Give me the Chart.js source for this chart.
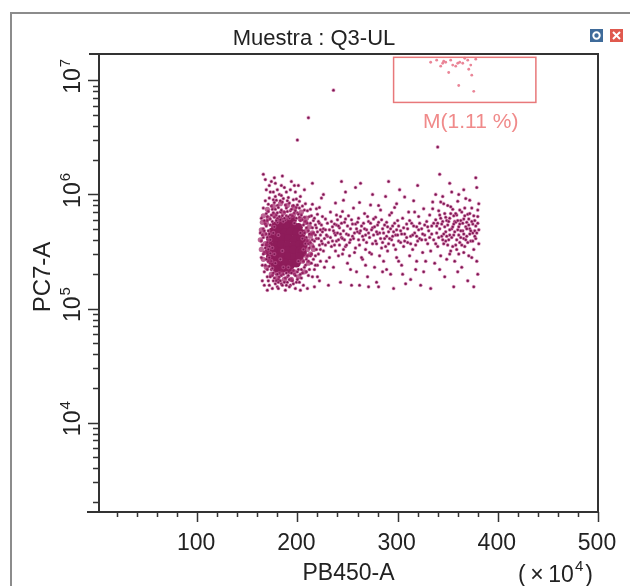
<!DOCTYPE html>
<html>
<head>
<meta charset="utf-8">
<script src="https://cdn.jsdelivr.net/npm/chart.js@4.4.1/dist/chart.umd.min.js"></script>
<style>
  html, body { margin: 0; padding: 0; background: #fff; }
  #wrap { width: 630px; height: 586px; position: relative; }
</style>
</head>
<body>
<div id="wrap"><canvas id="chartCanvas"></canvas></div>
<script>
// axis ticks / labels
const xTickValues = [20,40,60,80,100,120,140,160,180,200,220,240,260,280,300,320,340,360,380,400,420,440,460,480,500];
const xLabelValues = [100, 200, 300, 400, 500];
const yTickValues = [2e3,3e3,4e3,5e3,6e3,7e3,8e3,9e3,1e4,2e4,3e4,4e4,5e4,6e4,7e4,8e4,9e4,1e5,2e5,3e5,4e5,5e5,6e5,7e5,8e5,9e5,1e6,2e6,3e6,4e6,5e6,6e6,7e6,8e6,9e6,1e7];
const yLabelExponents = [4, 5, 6, 7];
const titleText = "Muestra : Q3-UL";
const xTitle = "PB450-A";
const yTitle = "PC7-A";

// gate M
const gateX = [296, 438];
const gateY = [6.4e6, 1.59e7];
const gateLabel = "M(1.11 %)";

// dense core of the main population (PB450 x1e4, PC7)
const coreEvents = [
  [182,5.9e5],[189,5.8e5],[195,5.95e5],
  [178,5.3e5],[184,5.25e5],[190,5.2e5],[196,5.3e5],[201,5.15e5],
  [175,4.7e5],[181,4.65e5],[187,4.6e5],[193,4.7e5],[199,4.6e5],[204,4.55e5],
  [173,4.1e5],[179,4.05e5],[185,4.15e5],[191,4.1e5],[197,4.05e5],[203,4.15e5],[206,4.0e5],
  [172,3.6e5],[178,3.55e5],[184,3.65e5],[190,3.6e5],[196,3.55e5],[202,3.6e5],[206,3.6e5],
  [172,3.2e5],[178,3.25e5],[184,3.15e5],[190,3.2e5],[196,3.25e5],[202,3.2e5],[205,3.1e5],
  [173,2.85e5],[179,2.8e5],[185,2.9e5],[191,2.85e5],[197,2.8e5],[202,2.85e5],
  [176,2.5e5],[182,2.45e5],[188,2.5e5],[194,2.45e5],[199,2.5e5],
  [180,2.2e5],[186,2.25e5],[192,2.2e5]
];
// medium density ring round the core
const haloEvents = [
  [166,6.5e5],[170,7.4e5],[176,7.9e5],[183,8.3e5],[190,8.0e5],[197,7.6e5],[204,7.0e5],[209,6.2e5],
  [212,5.2e5],[213,4.3e5],[214,3.6e5],[213,3.0e5],[211,2.5e5],[207,2.1e5],[201,1.9e5],[194,1.8e5],
  [187,1.8e5],[180,1.85e5],[174,2.0e5],[169,2.3e5],[166,2.7e5],[164,3.3e5],[163,4.0e5],[164,4.9e5],
  [165,5.7e5],[171,6.2e5],[208,5.7e5],[210,3.3e5],[168,3.7e5],[205,2.6e5],[177,6.6e5],[186,6.9e5],
  [196,6.6e5],[203,6.1e5],[209,4.8e5],[211,3.9e5],[209,2.9e5],[197,2.1e5],[184,2.05e5],[172,2.6e5],
  [168,3.1e5],[167,4.5e5],[169,5.6e5],[215,4.6e5],[216,3.3e5]
];
// single events
const cellEvents = [
  [166,4.2e5],[167,3.1e5],[168,5.5e5],[168,2.4e5],[169,6.8e5],[170,3.8e5],[170,1.9e5],[171,8.2e5],[171,4.8e5],[172,2.8e5],
  [172,1.6e5],[173,1.05e6],[173,6.1e5],[174,2.2e5],[175,7.4e5],[175,3.4e5],[176,1.75e5],[176,9.0e5],[177,5.2e5],[178,2.5e5],
  [178,1.25e6],[179,6.6e5],[180,1.55e5],[180,8.0e5],[181,4.4e5],[182,2.05e5],[182,1.0e6],[183,7.0e5],[184,1.65e5],[185,8.6e5],
  [186,5.8e5],[186,2.3e5],[187,1.15e6],[188,1.45e5],[189,7.6e5],[190,1.9e5],[191,9.4e5],[192,6.2e5],[193,1.6e5],[194,1.3e6],
  [195,7.9e5],[196,2.15e5],[197,5.6e5],[198,1.05e6],[199,1.7e5],[200,6.9e5],[201,2.6e5],[202,8.7e5],[203,4.6e5],[204,1.85e5],
  [205,6.0e5],[206,3.3e5],[207,7.3e5],[208,2.4e5],[209,5.1e5],[210,3.9e5],[211,1.95e5],[212,6.4e5],[213,2.9e5],[214,4.5e5],
  [215,8.2e5],[216,3.5e5],[217,2.2e5],[218,5.4e5],[219,4.1e5],[220,6.7e5],[221,3.0e5],[222,1.75e5],[223,4.9e5],[224,9.3e5],
  [225,3.7e5],
  [165,3.6e5],[166,5.0e5],[167,2.1e5],[169,4.5e5],[170,5.9e5],[171,2.6e5],[172,3.5e5],[173,4.0e5],[174,7.9e5],[175,1.95e5],
  [176,4.6e5],[177,3.0e5],[178,9.6e5],[179,2.0e5],[180,5.7e5],[181,1.8e5],[183,2.7e5],[184,9.8e5],[185,3.2e5],[187,1.7e5],
  [188,6.0e5],[190,8.8e5],[191,2.3e5],[193,7.2e5],[194,1.8e5],[196,9.0e5],[197,2.0e5],[199,7.7e5],[200,2.1e5],[202,6.3e5],
  [203,2.0e5],[205,4.1e5],[206,1.6e5],[208,5.8e5],[209,2.7e5],[211,4.8e5],[212,3.4e5],[213,7.4e5],[214,2.5e5],[216,5.9e5],
  [218,2.9e5],[219,7.5e5],[220,2.4e5],[222,5.6e5],[223,3.3e5],
  [163,4.6e5],[164,2.8e5],[164,6.2e5],[165,1.75e5],[166,1.5e6],[168,1.35e6],[170,1.45e5],[172,1.2e6],[175,1.5e5],[177,1.4e6],
  [181,1.5e5],[185,1.45e6],[189,1.6e5],[192,1.55e5],[198,1.5e5],[201,1.2e6],[203,1.45e5],[207,1.1e6],[210,1.5e5],[215,1.25e6],
  [217,1.55e5],[226,1.0e6],[228,6.1e5],[229,2.6e5],[230,4.3e5],[231,1.6e5],[233,7.0e5],[234,3.5e5],[235,5.2e5],
  [164,3.9e5],[165,4.4e5],[165,2.4e5],[166,3.0e5],[166,7.6e5],[167,4.8e5],[167,5.9e5],[167,1.6e5],[168,3.4e5],[168,8.8e5],
  [169,2.7e5],[169,5.3e5],[169,1.1e6],[170,4.2e5],[170,6.4e5],[170,2.2e5],[171,3.3e5],[171,7.1e5],[171,1.75e5],[172,4.5e5],
  [172,9.3e5],[172,2.35e5],[173,5.4e5],[173,1.9e5],[173,3.05e5],[174,6.6e5],[174,2.6e5],[174,1.3e6],[175,5.8e5],[175,2.25e5],
  [176,6.9e5],[176,2.05e5],[176,1.05e6],[177,8.5e5],[177,1.85e5],[177,6.3e5],[178,7.4e5],[178,1.65e5],[179,8.9e5],[179,5.9e5],
  [179,1.75e5],[180,6.9e5],[180,1.1e6],[180,2.0e5],[181,7.7e5],[181,1.7e5],[182,6.4e5],[182,1.9e5],[183,8.8e5],[183,6.0e5],
  [183,1.75e5],[184,7.3e5],[184,1.95e5],[184,1.2e6],[185,6.5e5],[185,1.6e5],[186,9.2e5],[186,2.0e5],[187,7.0e5],[187,6.2e5],
  [188,8.1e5],[188,1.85e5],[189,6.5e5],[189,1.05e6],[189,2.05e5],[190,7.1e5],[190,1.7e5],[191,6.4e5],[191,1.95e5],[192,8.4e5],
  [192,1.8e5],[193,6.6e5],[193,1.1e6],[194,7.4e5],[194,2.05e5],[195,6.5e5],[195,1.75e5],[196,8.0e5],[196,1.65e5],[197,6.9e5],
  [197,1.2e6],[198,7.2e5],[198,1.95e5],[199,6.2e5],[199,9.1e5],[200,8.1e5],[200,1.8e5],[201,6.7e5],[201,2.2e5],[202,7.6e5],
  [202,1.7e5],[203,5.9e5],[203,9.6e5],[204,6.6e5],[204,2.2e5],[205,7.9e5],[205,2.05e5],[206,5.4e5],[206,2.6e5],[207,6.3e5],
  [207,2.3e5],[207,4.6e5],[208,3.7e5],[208,8.3e5],[209,4.2e5],[209,2.1e5],[210,5.6e5],[210,2.9e5],[210,7.2e5],[211,3.7e5],
  [211,2.6e5],[212,4.5e5],[212,2.2e5],[213,5.6e5],[213,3.8e5],[214,6.5e5],[214,3.0e5],[215,5.1e5],[215,4.0e5],[215,1.9e5],
  [216,4.6e5],[216,2.7e5],[217,6.2e5],[217,3.9e5],[218,4.4e5],[218,2.4e5],[219,5.1e5],[219,3.3e5],[220,4.7e5],[220,1.9e5],
  [221,5.8e5],[221,4.1e5],[222,3.6e5],[222,7.7e5],[223,4.4e5],[223,2.6e5],[224,5.4e5],[224,3.9e5],[225,4.7e5],[225,6.4e5],
  [226,3.2e5],[226,5.0e5],[227,4.1e5],[227,2.3e5],[228,4.9e5],[228,3.6e5],
  [236,2.3e5],[237,4.6e5],[238,8.4e5],[239,3.9e5],[240,6.0e5],[241,2.9e5],[242,5.1e5],[243,1.7e5],[244,4.2e5],[245,7.1e5],
  [246,3.3e5],[247,5.7e5],[248,1.05e6],[249,4.5e5],[250,2.5e5],[251,6.5e5],[252,3.8e5],[253,5.0e5],[254,1.6e5],[255,4.3e5],
  [256,7.6e5],[257,3.1e5],[258,5.5e5],[259,2.1e5],[260,4.7e5],[261,6.2e5],[262,3.6e5],[263,1.25e6],[264,5.3e5],[265,2.7e5],
  [266,4.0e5],[267,6.8e5],[268,3.3e5],[269,4.9e5],[270,1.9e5],[271,5.8e5],[272,4.2e5],[273,8.1e5],[274,3.0e5],[275,5.1e5],
  [276,4.4e5],[277,2.3e5],[278,6.3e5],[279,3.7e5],[280,5.4e5],[281,1.55e5],[282,4.6e5],[283,7.3e5],[284,3.4e5],[285,5.0e5],
  [286,2.6e5],[287,4.1e5],[288,9.6e5],[289,5.7e5],[290,3.2e5],[291,4.7e5],[292,6.6e5],[293,2.0e5],[294,4.0e5],[295,5.3e5],
  [296,3.6e5],[297,7.7e5],[298,4.4e5],[299,2.8e5],[300,5.9e5],[301,3.9e5],[302,1.1e6],[303,4.8e5],[304,2.4e5],[305,6.2e5],
  [306,3.5e5],[307,4.5e5],[308,1.65e5],[309,5.5e5],[310,3.8e5],[311,7.0e5],[312,2.9e5],[313,4.3e5],[314,5.6e5],[315,3.3e5],
  [316,8.8e5],[317,4.6e5],[318,2.2e5],[319,5.2e5],[320,3.9e5],[321,6.4e5],[322,4.1e5],[323,1.6e5],[324,5.0e5],[325,3.1e5],
  [326,7.5e5],[327,4.4e5],[328,2.6e5],[329,5.8e5],[330,3.7e5],
  [237,3.6e5],[239,5.4e5],[241,4.0e5],[243,6.4e5],[245,3.0e5],[246,4.8e5],[248,3.5e5],[250,5.3e5],[252,2.9e5],[254,6.0e5],
  [256,4.1e5],[258,3.4e5],[260,5.7e5],[262,4.6e5],[264,2.8e5],[266,5.6e5],[268,4.4e5],[270,6.4e5],[272,3.1e5],[274,4.9e5],
  [276,6.1e5],[278,3.9e5],[280,4.5e5],[282,2.9e5],[284,6.0e5],[286,4.6e5],[288,3.5e5],[290,5.2e5],[292,4.1e5],[294,6.9e5],
  [296,4.7e5],[298,3.3e5],[300,4.4e5],[303,3.8e5],[306,5.1e5],[309,4.2e5],[312,5.9e5],[315,4.4e5],[318,3.6e5],[321,4.9e5],
  [324,4.0e5],[327,5.4e5],
  [229,4.4e5],[230,5.6e5],[231,3.8e5],[232,4.9e5],[232,2.8e5],[233,4.2e5],[234,5.8e5],[235,3.9e5],[236,4.8e5],[237,5.5e5],
  [238,3.2e5],[238,4.4e5],[239,6.6e5],[240,4.6e5],[241,5.3e5],[242,3.6e5],[243,4.5e5],[244,5.6e5],[245,4.1e5],[247,4.0e5],
  [248,6.1e5],[249,3.6e5],[251,4.4e5],[253,4.0e5],[255,5.5e5],[257,4.6e5],[259,5.0e5],[261,4.0e5],[263,4.8e5],[265,4.3e5],
  [267,5.0e5],[269,3.8e5],[271,4.6e5],[273,5.6e5],[275,3.7e5],[277,5.2e5],[279,4.7e5],[281,5.7e5],[283,4.1e5],[285,3.8e5],
  [287,5.4e5],[289,4.3e5],[291,3.7e5],[293,5.0e5],[295,4.3e5],[297,5.6e5],[299,4.9e5],[301,5.3e5],[304,4.5e5],[307,3.9e5],
  [310,5.0e5],[313,3.7e5],[316,5.3e5],[319,4.3e5],[322,5.6e5],[325,4.5e5],[328,4.0e5],[330,5.2e5],
  [246,8.9e5],[262,8.5e5],[281,8.0e5],[299,8.3e5],[317,7.0e5],[253,2.2e5],[268,2.4e5],[285,2.1e5],[301,2.6e5],[319,2.6e5],
  [331,4.8e5],[332,6.6e5],[333,3.2e5],[334,5.3e5],[335,8.6e5],[336,4.0e5],[337,2.5e5],[338,6.0e5],[339,4.6e5],[340,3.5e5],
  [341,7.2e5],[342,5.0e5],[343,2.9e5],[344,4.3e5],[345,9.6e5],[345,5.8e5],[346,3.7e5],[347,6.8e5],[348,4.7e5],[349,2.7e5],
  [350,5.4e5],[350,8.0e5],[351,4.0e5],[352,6.2e5],[353,3.2e5],[354,5.0e5],[354,1.05e6],[355,7.4e5],[356,4.4e5],[357,2.6e5],
  [357,5.8e5],[358,3.6e5],[359,6.6e5],[360,4.9e5],[360,8.7e5],[361,3.0e5],[362,5.5e5],[363,4.2e5],[364,7.0e5],[364,2.3e5],
  [365,4.8e5],[366,6.1e5],[367,3.5e5],[368,5.2e5],[368,9.2e5],[369,4.3e5],[370,6.7e5],[371,2.9e5],[372,5.0e5],[373,3.9e5],
  [374,7.6e5],[375,4.6e5],[376,3.3e5],[377,5.9e5],[378,4.1e5],[379,2.6e5],[380,6.4e5],[381,3.7e5],[381,8.3e5],
  [340,5.6e5],[343,6.2e5],[346,4.5e5],[349,5.9e5],[352,4.4e5],[355,5.2e5],[358,5.7e5],[361,4.4e5],[363,5.9e5],[366,4.1e5],
  [369,5.7e5],[372,4.5e5],[375,5.5e5],[362,3.8e5],[356,6.5e5],[348,3.9e5],[353,7.8e5],[367,7.6e5],[371,6.1e5],[377,4.8e5],
  [332,4.2e5],[334,4.5e5],[336,5.6e5],[338,3.7e5],[339,5.3e5],[341,4.2e5],[342,6.6e5],[344,5.5e5],[345,4.0e5],[347,5.2e5],
  [348,6.3e5],[349,4.3e5],[350,3.6e5],[351,5.8e5],[352,4.9e5],[353,6.8e5],[354,4.2e5],[355,3.5e5],[356,5.5e5],[357,4.7e5],
  [358,6.8e5],[359,4.0e5],[360,5.9e5],[361,5.2e5],[362,7.3e5],[363,4.8e5],[364,3.6e5],[365,5.6e5],[366,4.5e5],[367,6.5e5],
  [368,4.0e5],[369,5.0e5],[370,3.8e5],[371,5.4e5],[372,6.8e5],[373,4.8e5],[374,5.8e5],[375,3.9e5],[376,6.5e5],[377,4.3e5],
  [378,5.3e5],[379,4.6e5],[380,5.6e5],[381,4.9e5],[359,3.3e5],[352,3.0e5],[366,3.1e5],[374,2.8e5],[346,8.3e5],[361,1.0e6],
  [372,8.9e5],[380,7.3e5],[335,7.5e5],[343,8.6e5],
  [244,1.3e6],[258,1.15e6],[275,1.0e6],[291,1.3e6],[307,9.5e5],[320,1.2e6],[338,1.0e6],[352,1.25e6],[366,1.1e6],[378,1.4e6],
  [379,1.15e6],[342,1.5e6],[262,1.6e5],[279,1.7e5],[296,1.5e5],[313,1.8e5],[333,1.5e5],[347,1.9e5],[356,1.55e5],[370,1.75e5],
  [380,2.0e5],[376,1.55e5],[271,1.55e5],[289,2.2e5],[305,2.0e5],[326,2.1e5],[342,2.2e5],[360,2.1e5],
  [236,8.2e6],[211,4.7e6],[200,3.0e6],[340,2.6e6]
];
// events inside gate M
const gateEvents = [
  [333,1.44e7],[346,1.47e7],[345,1.41e7],[348,1.44e7],[355,1.36e7],[358,1.33e7],[360,1.41e7],[362,1.44e7],[365,1.41e7],
  [370,1.5e7],[373,1.36e7],[378,1.53e7],[351,1.17e7],[371,1.25e7],[374,1.11e7],[361,9.0e6],[376,8.0e6],
  [339,1.5e7],[353,1.5e7],[367,1.56e7],[343,1.33e7]
];

const FONT = "'Liberation Sans', Arial, sans-serif";
const toXY = arr => arr.map(p => ({ x: p[0], y: p[1] }));

const cytoPlugin = {
  id: "cyto",
  beforeDraw(chart) {
    const ctx = chart.ctx;
    ctx.save();
    ctx.fillStyle = "#fff";
    ctx.fillRect(0, 0, chart.width, chart.height);
    // panel frame
    ctx.strokeStyle = "#8c8c8c";
    ctx.lineWidth = 2;
    ctx.beginPath();
    ctx.moveTo(11, chart.height);
    ctx.lineTo(11, 13);
    ctx.lineTo(chart.width, 13);
    ctx.stroke();
    // title
    ctx.fillStyle = "#222";
    ctx.font = "22px " + FONT;
    ctx.textAlign = "center";
    ctx.textBaseline = "alphabetic";
    ctx.fillText(titleText, 314, 45);
    // window icons
    ctx.fillStyle = "#3f6b9a";
    ctx.fillRect(590, 29, 13, 13);
    ctx.strokeStyle = "#fff";
    ctx.lineWidth = 2;
    ctx.beginPath();
    ctx.arc(596.5, 35.5, 3.2, 0, Math.PI * 2);
    ctx.stroke();
    ctx.fillStyle = "#e0594e";
    ctx.fillRect(610, 29, 13, 13);
    ctx.beginPath();
    ctx.moveTo(613, 32); ctx.lineTo(620, 39);
    ctx.moveTo(620, 32); ctx.lineTo(613, 39);
    ctx.stroke();
    ctx.restore();
  },
  afterDatasetsDraw(chart) {
    const ctx = chart.ctx;
    const xs = chart.scales.x, ys = chart.scales.y;
    const a = chart.chartArea;
    ctx.save();
    // gate
    const gx0 = xs.getPixelForValue(gateX[0]), gx1 = xs.getPixelForValue(gateX[1]);
    const gy0 = ys.getPixelForValue(gateY[1]), gy1 = ys.getPixelForValue(gateY[0]);
    ctx.strokeStyle = "#e8787a";
    ctx.lineWidth = 1.5;
    ctx.strokeRect(gx0, gy0, gx1 - gx0, gy1 - gy0);
    ctx.fillStyle = "#f08a8a";
    ctx.font = "21px " + FONT;
    ctx.textAlign = "center";
    ctx.fillText(gateLabel, (gx0 + gx1) / 2 + 6, gy1 + 26);

    // plot box
    ctx.strokeStyle = "#333";
    ctx.lineWidth = 2;
    ctx.beginPath();
    ctx.moveTo(a.left - 10, a.top); ctx.lineTo(a.right, a.top); ctx.lineTo(a.right, a.bottom);
    ctx.moveTo(a.left, a.top); ctx.lineTo(a.left, a.bottom);
    ctx.moveTo(a.left - 12, a.bottom); ctx.lineTo(a.right, a.bottom);
    ctx.stroke();

    // x ticks
    ctx.lineWidth = 1.5;
    ctx.beginPath();
    xTickValues.forEach(v => {
      const px = Math.round(xs.getPixelForValue(v)) + 0.5;
      const len = xLabelValues.includes(v) ? 10 : 5;
      ctx.moveTo(px, a.bottom); ctx.lineTo(px, a.bottom + len);
    });
    // y ticks
    yTickValues.forEach(v => {
      const py = Math.round(ys.getPixelForValue(v)) + 0.5;
      const major = yLabelExponents.some(e => Math.pow(10, e) === v);
      ctx.moveTo(a.left, py); ctx.lineTo(a.left - (major ? 11 : 6), py);
    });
    ctx.stroke();

    // x labels
    ctx.fillStyle = "#222";
    ctx.font = "23px " + FONT;
    ctx.textAlign = "center";
    xLabelValues.forEach(v => {
      ctx.fillText(String(v), xs.getPixelForValue(v) - 1, 550);
    });
    ctx.fillText(xTitle, (a.left + a.right) / 2, 580);
    // (x10^4)
    ctx.textAlign = "left";
    let cx = 518;
    const pre = "(\u2009\u00d7\u200910";
    ctx.fillText(pre, cx, 582);
    cx += ctx.measureText(pre).width;
    ctx.font = "15px " + FONT;
    ctx.fillText("4", cx + 1, 571);
    cx += ctx.measureText("4").width + 3;
    ctx.font = "23px " + FONT;
    ctx.fillText(")", cx, 582);

    // y labels, rotated
    yLabelExponents.forEach(e => {
      const py = ys.getPixelForValue(Math.pow(10, e));
      ctx.save();
      ctx.translate(80, py);
      ctx.rotate(-Math.PI / 2);
      ctx.font = "23px " + FONT;
      const w10 = ctx.measureText("10").width;
      ctx.font = "15px " + FONT;
      const we = ctx.measureText(String(e)).width;
      const start = -(w10 + we + 1) / 2 + 4;
      ctx.textAlign = "left";
      ctx.font = "23px " + FONT;
      ctx.fillText("10", start, 0);
      ctx.font = "15px " + FONT;
      ctx.fillText(String(e), start + w10 + 1, -10);
      ctx.restore();
    });
    ctx.save();
    ctx.translate(50, (a.top + a.bottom) / 2 - 6);
    ctx.rotate(-Math.PI / 2);
    ctx.font = "24px " + FONT;
    ctx.textAlign = "center";
    ctx.fillText(yTitle, 0, 0);
    ctx.restore();
    ctx.restore();
  }
};

const ctx = document.getElementById("chartCanvas").getContext("2d");
new Chart(ctx, {
  type: "scatter",
  data: {
    datasets: [
      { label: "halo", data: toXY(haloEvents), pointRadius: 2.6, backgroundColor: "rgba(160,40,105,0.7)", borderWidth: 0 },
      { label: "events", data: toXY(cellEvents), pointRadius: 1.5, backgroundColor: "rgb(122,22,80)",
        borderColor: "rgba(220,120,175,0.45)", borderWidth: 1.2 },
      { label: "core", data: toXY(coreEvents), pointRadius: 4.4, backgroundColor: "rgb(142,28,90)", borderWidth: 0 },
      { label: "gate", data: toXY(gateEvents), pointRadius: 1.4, backgroundColor: "rgba(232,120,140,0.9)", borderWidth: 0 }
    ]
  },
  options: {
    responsive: true,
    maintainAspectRatio: false,
    animation: false,
    events: [],
    layout: { padding: { left: 99, right: 32, top: 54, bottom: 74 } },
    plugins: { legend: { display: false }, tooltip: { enabled: false }, title: { display: false } },
    scales: {
      x: { type: "linear", min: 2, max: 500, display: false },
      y: { type: "logarithmic", min: 1650, max: 1.7e7, display: false }
    }
  },
  plugins: [cytoPlugin]
});
</script>
</body>
</html>
